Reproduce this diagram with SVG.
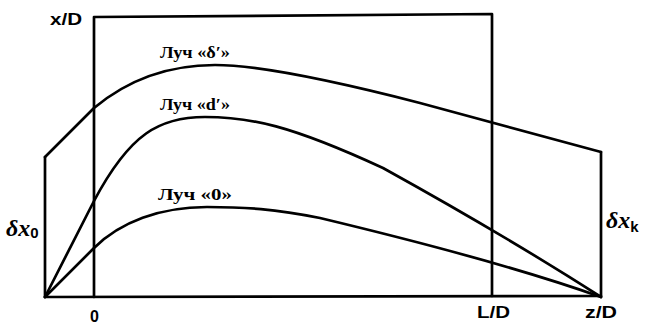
<svg xmlns="http://www.w3.org/2000/svg" width="645" height="324" viewBox="0 0 645 324">
<style>
.ln{fill:none;stroke:#000;stroke-width:2.7;stroke-linejoin:round;stroke-linecap:round}
.lb{font-family:"Liberation Serif","DejaVu Serif",serif;font-weight:bold;font-size:17px;fill:#000}
.ax{font-family:"Liberation Sans","DejaVu Sans",sans-serif;font-weight:bold;font-size:16px;fill:#000}
.gr{font-family:"Liberation Serif","DejaVu Serif",serif;font-style:italic;font-weight:bold;font-size:24px;fill:#000}
.sub{font-family:"Liberation Sans","DejaVu Sans",sans-serif;font-style:normal;font-weight:bold;font-size:15px}
</style>
<rect width="645" height="324" fill="#fff"/>
<g id="frame">
<path class="ln" d="M94,297 L94,17 L492,14 L492,296"/>
<path class="ln" d="M45,297 L601,296"/>
<path class="ln" d="M45,297 L45,157"/>
<path class="ln" d="M601,296 L601,152"/>
</g>
<g id="rays">
<path id="ray-delta" class="ln" d="M45,157 L94,108 C130,78 170,65 215,65 C265,65 350,85 420,103 L601,152"/>
<path id="ray-d" class="ln" d="M45,297 L94,201 C130,133 160,117 205,117 C250,117 290,125 383,168 C430,194 520,245 601,297"/>
<path id="ray-0" class="ln" d="M45,297 L94,248 C120,222 160,207 207,207 C245,207 275,209 320,218 C420,242 520,268 601,297"/>
</g>
<g id="labels">
<text class="lb" x="160" y="58" textLength="70" lengthAdjust="spacingAndGlyphs">Луч «δ′»</text>
<text class="lb" x="160" y="110" textLength="70" lengthAdjust="spacingAndGlyphs">Луч «d′»</text>
<text class="lb" x="158" y="200" textLength="74" lengthAdjust="spacingAndGlyphs">Луч «0»</text>
</g>
<g id="axis-labels">
<text class="ax" x="50" y="25" textLength="32" lengthAdjust="spacingAndGlyphs">x/D</text>
<text class="ax" x="90" y="322">0</text>
<text class="ax" x="477" y="318" textLength="33" lengthAdjust="spacingAndGlyphs">L/D</text>
<text class="ax" x="585" y="318" textLength="32" lengthAdjust="spacingAndGlyphs">z/D</text>
<text class="gr" x="6" y="236">δx<tspan class="sub" dy="2">0</tspan></text>
<text class="gr" x="606" y="228">δx<tspan class="sub" dy="4">k</tspan></text>
</g>
</svg>
